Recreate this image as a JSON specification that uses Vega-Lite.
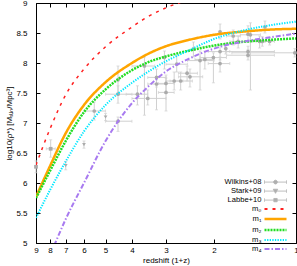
{
  "$schema": "https://vega.github.io/schema/vega-lite/v6.json",
  "width": 260,
  "height": 240,
  "autosize": {"type": "none"},
  "padding": {"left": 36, "top": 3, "right": 1, "bottom": 23},
  "background": "white",
  "config": {
    "view": {"stroke": "black", "strokeWidth": 1},
    "axis": {
      "domain": false, "grid": false, "tickColor": "black", "tickSize": -4,
      "labelFont": "Liberation Sans", "labelFontSize": 8, "labelColor": "black",
      "titleFont": "Liberation Sans", "titleFontSize": 8, "titleFontWeight": "normal", "titleColor": "black"
    }
  },
  "datasets": {
    "pts": [
      {"series": "Labbe+10", "x": 9, "y": 6.27, "xlo": 9, "xhi": 9, "ylo": 6.17, "yhi": 6.37},
      {"series": "Labbe+10", "x": 7.95, "y": 6.57, "xlo": 7.65, "xhi": 8.25, "ylo": 6.43, "yhi": 6.72},
      {"series": "Stark+09", "x": 7, "y": 6.29, "xlo": 7, "xhi": 7, "ylo": 6.22, "yhi": 6.36},
      {"series": "Stark+09", "x": 6, "y": 6.64, "xlo": 6, "xhi": 6, "ylo": 6.58, "yhi": 6.7},
      {"series": "Stark+09", "x": 5, "y": 7.1, "xlo": 5, "xhi": 5, "ylo": 7.04, "yhi": 7.16},
      {"series": "Wilkins+08", "x": 5.5, "y": 7.2, "xlo": 5.0, "xhi": 6.0, "ylo": 7.05, "yhi": 7.35},
      {"series": "Wilkins+08", "x": 4.5, "y": 7.03, "xlo": 4.0, "xhi": 5.0, "ylo": 6.86, "yhi": 7.1},
      {"series": "Wilkins+08", "x": 4.5, "y": 7.48, "xlo": 4.0, "xhi": 5.0, "ylo": 7.33, "yhi": 7.62},
      {"series": "Wilkins+08", "x": 4.5, "y": 7.72, "xlo": 4.5, "xhi": 4.5, "ylo": 7.5, "yhi": 7.95},
      {"series": "Wilkins+08", "x": 3.6, "y": 7.95, "xlo": 3.3, "xhi": 4.0, "ylo": 7.13, "yhi": 8.1},
      {"series": "Wilkins+08", "x": 3.82, "y": 7.48, "xlo": 3.5, "xhi": 4.2, "ylo": 7.3, "yhi": 7.62},
      {"series": "Wilkins+08", "x": 3.5, "y": 7.41, "xlo": 3.0, "xhi": 4.0, "ylo": 7.3, "yhi": 7.55},
      {"series": "Wilkins+08", "x": 3.25, "y": 7.76, "xlo": 3.0, "xhi": 3.5, "ylo": 7.6, "yhi": 7.9},
      {"series": "Wilkins+08", "x": 3.25, "y": 7.65, "xlo": 3.0, "xhi": 3.5, "ylo": 7.22, "yhi": 7.72},
      {"series": "Wilkins+08", "x": 3.0, "y": 7.66, "xlo": 2.8, "xhi": 3.2, "ylo": 7.5, "yhi": 7.8},
      {"series": "Wilkins+08", "x": 3.0, "y": 7.51, "xlo": 2.8, "xhi": 3.2, "ylo": 7.2, "yhi": 7.75},
      {"series": "Wilkins+08", "x": 2.8, "y": 7.7, "xlo": 2.6, "xhi": 3.0, "ylo": 7.55, "yhi": 7.85},
      {"series": "Wilkins+08", "x": 2.65, "y": 7.7, "xlo": 2.4, "xhi": 2.9, "ylo": 7.55, "yhi": 7.85},
      {"series": "Wilkins+08", "x": 2.74, "y": 7.98, "xlo": 2.5, "xhi": 3.0, "ylo": 7.85, "yhi": 8.12},
      {"series": "Wilkins+08", "x": 2.51, "y": 7.83, "xlo": 2.3, "xhi": 2.7, "ylo": 7.7, "yhi": 7.95},
      {"series": "Wilkins+08", "x": 3.04, "y": 8.09, "xlo": 3.04, "xhi": 3.04, "ylo": 7.9, "yhi": 8.2},
      {"series": "Wilkins+08", "x": 2.45, "y": 7.77, "xlo": 2.2, "xhi": 2.7, "ylo": 7.6, "yhi": 7.9},
      {"series": "Wilkins+08", "x": 2.38, "y": 8.23, "xlo": 2.38, "xhi": 2.38, "ylo": 8.1, "yhi": 8.35},
      {"series": "Wilkins+08", "x": 2.25, "y": 8.04, "xlo": 2.0, "xhi": 2.5, "ylo": 7.55, "yhi": 8.2},
      {"series": "Wilkins+08", "x": 2.16, "y": 8.06, "xlo": 2.0, "xhi": 2.35, "ylo": 7.9, "yhi": 8.2},
      {"series": "Wilkins+08", "x": 2.01, "y": 8.09, "xlo": 1.8, "xhi": 2.25, "ylo": 7.67, "yhi": 8.17},
      {"series": "Wilkins+08", "x": 1.9, "y": 8.52, "xlo": 1.9, "xhi": 1.9, "ylo": 8.4, "yhi": 8.65},
      {"series": "Wilkins+08", "x": 1.9, "y": 8.19, "xlo": 1.75, "xhi": 2.1, "ylo": 8.05, "yhi": 8.3},
      {"series": "Wilkins+08", "x": 1.9, "y": 7.99, "xlo": 1.75, "xhi": 2.1, "ylo": 7.85, "yhi": 8.1},
      {"series": "Wilkins+08", "x": 1.81, "y": 8.24, "xlo": 1.81, "xhi": 1.81, "ylo": 8.15, "yhi": 8.33},
      {"series": "Wilkins+08", "x": 1.7, "y": 8.45, "xlo": 1.6, "xhi": 1.8, "ylo": 8.3, "yhi": 8.55},
      {"series": "Wilkins+08", "x": 1.5, "y": 8.48, "xlo": 1.5, "xhi": 1.5, "ylo": 8.35, "yhi": 8.62},
      {"series": "Wilkins+08", "x": 1.47, "y": 8.47, "xlo": 1.35, "xhi": 1.6, "ylo": 7.55, "yhi": 8.67},
      {"series": "Wilkins+08", "x": 1.5, "y": 8.19, "xlo": 1.2, "xhi": 1.8, "ylo": 8.1, "yhi": 8.28},
      {"series": "Wilkins+08", "x": 1.5, "y": 8.13, "xlo": 1.2, "xhi": 1.8, "ylo": 8.05, "yhi": 8.22},
      {"series": "Wilkins+08", "x": 1.36, "y": 8.36, "xlo": 1.3, "xhi": 1.45, "ylo": 8.25, "yhi": 8.45},
      {"series": "Wilkins+08", "x": 1.33, "y": 8.36, "xlo": 1.25, "xhi": 1.4, "ylo": 8.28, "yhi": 8.44},
      {"series": "Wilkins+08", "x": 1.25, "y": 8.36, "xlo": 1.2, "xhi": 1.3, "ylo": 8.3, "yhi": 8.42},
      {"series": "Wilkins+08", "x": 1.3, "y": 8.6, "xlo": 1.3, "xhi": 1.3, "ylo": 8.5, "yhi": 8.7},
      {"series": "Wilkins+08", "x": 1.01, "y": 8.17, "xlo": 1.0, "xhi": 1.72, "ylo": 8.1, "yhi": 8.24},
      {"series": "Wilkins+08", "x": 1.63, "y": 8.36, "xlo": 1.5, "xhi": 1.75, "ylo": 8.25, "yhi": 8.45}
    ],
    "curves": [
      {"series": "m₀", "x": 9, "y": 6.3}, {"series": "m₀", "x": 8, "y": 6.9}, {"series": "m₀", "x": 7, "y": 7.47},
      {"series": "m₀", "x": 6, "y": 7.9}, {"series": "m₀", "x": 5, "y": 8.27}, {"series": "m₀", "x": 4, "y": 8.6},
      {"series": "m₀", "x": 3.5, "y": 8.77}, {"series": "m₀", "x": 3, "y": 8.92}, {"series": "m₀", "x": 2.5, "y": 9.05},
      {"series": "m₁", "x": 9, "y": 5.77}, {"series": "m₁", "x": 8, "y": 6.28}, {"series": "m₁", "x": 7, "y": 6.83},
      {"series": "m₁", "x": 6, "y": 7.3}, {"series": "m₁", "x": 5, "y": 7.68}, {"series": "m₁", "x": 4, "y": 8.0},
      {"series": "m₁", "x": 3.5, "y": 8.15}, {"series": "m₁", "x": 3, "y": 8.28}, {"series": "m₁", "x": 2.5, "y": 8.38},
      {"series": "m₁", "x": 2, "y": 8.47}, {"series": "m₁", "x": 1.5, "y": 8.53}, {"series": "m₁", "x": 1.2, "y": 8.56},
      {"series": "m₁", "x": 1, "y": 8.57},
      {"series": "m₂", "x": 9, "y": 5.75}, {"series": "m₂", "x": 8, "y": 6.2}, {"series": "m₂", "x": 7, "y": 6.7},
      {"series": "m₂", "x": 6, "y": 7.18}, {"series": "m₂", "x": 5, "y": 7.56}, {"series": "m₂", "x": 4, "y": 7.88},
      {"series": "m₂", "x": 3.5, "y": 8.01}, {"series": "m₂", "x": 3, "y": 8.11}, {"series": "m₂", "x": 2.5, "y": 8.2},
      {"series": "m₂", "x": 2, "y": 8.29}, {"series": "m₂", "x": 1.5, "y": 8.36}, {"series": "m₂", "x": 1.2, "y": 8.39},
      {"series": "m₂", "x": 1, "y": 8.41},
      {"series": "m₃", "x": 9, "y": 5.42}, {"series": "m₃", "x": 8, "y": 5.88}, {"series": "m₃", "x": 7, "y": 6.36},
      {"series": "m₃", "x": 6, "y": 6.86}, {"series": "m₃", "x": 5, "y": 7.3}, {"series": "m₃", "x": 4, "y": 7.67},
      {"series": "m₃", "x": 3.5, "y": 7.85}, {"series": "m₃", "x": 3, "y": 8.03}, {"series": "m₃", "x": 2.5, "y": 8.2},
      {"series": "m₃", "x": 2, "y": 8.4}, {"series": "m₃", "x": 1.5, "y": 8.56}, {"series": "m₃", "x": 1.2, "y": 8.64},
      {"series": "m₃", "x": 1, "y": 8.69},
      {"series": "m₄", "x": 8, "y": 4.8}, {"series": "m₄", "x": 7.65, "y": 5.0}, {"series": "m₄", "x": 7, "y": 5.4},
      {"series": "m₄", "x": 6, "y": 6.0}, {"series": "m₄", "x": 5, "y": 6.7}, {"series": "m₄", "x": 4, "y": 7.33},
      {"series": "m₄", "x": 3.5, "y": 7.6}, {"series": "m₄", "x": 3, "y": 7.86}, {"series": "m₄", "x": 2.5, "y": 8.06},
      {"series": "m₄", "x": 2, "y": 8.24}, {"series": "m₄", "x": 1.5, "y": 8.37}, {"series": "m₄", "x": 1.2, "y": 8.44},
      {"series": "m₄", "x": 1, "y": 8.49}
    ]
  },
  "resolve": {"axis": {"x": "independent", "y": "independent"}},
  "layer": [
    {
      "data": {"name": "pts"},
      "mark": {"type": "rule", "color": "#d0d0d0", "strokeWidth": 1},
      "encoding": {
        "x": {"field": "x", "type": "quantitative", "scale": {"type": "log", "domain": [1, 9], "reverse": true, "nice": false}, "axis": null},
        "y": {"field": "ylo", "type": "quantitative", "scale": {"domain": [5, 9], "zero": false, "nice": false}, "axis": null},
        "y2": {"field": "yhi"}
      }
    },
    {
      "data": {"name": "pts"},
      "transform": [{"filter": "datum.xlo < datum.xhi"}],
      "mark": {"type": "rule", "color": "#d0d0d0", "strokeWidth": 1},
      "encoding": {
        "x": {"field": "xlo", "type": "quantitative", "axis": null},
        "x2": {"field": "xhi"},
        "y": {"field": "y", "type": "quantitative", "axis": null}
      }
    },
    {
      "data": {"name": "pts"},
      "transform": [{"fold": ["ylo", "yhi"], "as": ["k", "yc"]}],
      "mark": {"type": "tick", "orient": "horizontal", "color": "#d0d0d0", "size": 3, "thickness": 1},
      "encoding": {
        "x": {"field": "x", "type": "quantitative", "axis": null},
        "y": {"field": "yc", "type": "quantitative", "axis": null}
      }
    },
    {
      "data": {"name": "pts"},
      "transform": [{"filter": "datum.xlo < datum.xhi"}, {"fold": ["xlo", "xhi"], "as": ["k", "xc"]}],
      "mark": {"type": "tick", "orient": "vertical", "color": "#d0d0d0", "size": 3, "thickness": 1},
      "encoding": {
        "x": {"field": "xc", "type": "quantitative", "axis": null},
        "y": {"field": "y", "type": "quantitative", "axis": null}
      }
    },
    {
      "data": {"name": "pts"},
      "mark": {"type": "point", "filled": true, "color": "#ababab", "opacity": 1, "size": 14},
      "encoding": {
        "x": {"field": "x", "type": "quantitative",
          "axis": {"orient": "bottom", "values": [1, 2, 3, 4, 5, 6, 7, 8, 9], "format": "d", "title": "redshift (1+z)", "labelPadding": 7, "titlePadding": 2, "labelFlush": false, "labelOverlap": false}},
        "y": {"field": "y", "type": "quantitative",
          "axis": {"orient": "left", "values": [5, 5.5, 6, 6.5, 7, 7.5, 8, 8.5, 9], "format": "~g", "title": "log10(ρ*) [Mₛᵤₙ/Mpc³]", "labelPadding": 13, "titlePadding": 2, "labelFlush": false, "labelOverlap": false}},
        "shape": {"field": "series", "type": "nominal", "scale": {"domain": ["Wilkins+08", "Stark+09", "Labbe+10"], "range": ["circle", "triangle-down", "square"]}, "legend": null}
      }
    },
    {
      "data": {"name": "curves"},
      "mark": {"type": "line", "interpolate": "monotone", "clip": true},
      "encoding": {
        "x": {"field": "x", "type": "quantitative", "axis": null},
        "y": {"field": "y", "type": "quantitative", "axis": null},
        "color": {"field": "series", "type": "nominal",
          "scale": {"domain": ["Wilkins+08", "Stark+09", "Labbe+10", "m₀", "m₁", "m₂", "m₃", "m₄"],
                    "range": ["#b4b4b4", "#b4b4b4", "#b4b4b4", "#ff2020", "#ffa500", "#22dd22", "#00e8ff", "#a87af0"]},
          "legend": {
            "orient": "none", "legendX": 227.5, "legendY": 175.3, "title": null, "padding": 0,
            "labelFont": "Liberation Sans", "labelFontSize": 7.6, "labelColor": "black",
            "rowPadding": 0, "symbolSize": 484, "symbolType": "stroke",
            "encode": {
              "labels": {"update": {"x": {"value": -2}, "y": {"value": 3.8}, "align": {"value": "right"}, "baseline": {"value": "middle"}}},
              "symbols": {"update": {
                "x": {"value": 12},
                "y": {"value": 3.8},
                "size": {"value": 484},
                "shape": {"signal": "datum.value === 'Wilkins+08' ? 'M-1,0H1M-1,-0.15V0.15M1,-0.15V0.15M-0.17,0A0.17,0.17,0,1,1,0.17,0A0.17,0.17,0,1,1,-0.17,0Z' : datum.value === 'Stark+09' ? 'M-1,0H1M-1,-0.15V0.15M1,-0.15V0.15M-0.2,-0.17L0.2,-0.17L0,0.2Z' : datum.value === 'Labbe+10' ? 'M-1,0H1M-1,-0.15V0.15M1,-0.15V0.15M-0.15,-0.15H0.15V0.15H-0.15Z' : 'stroke'"},
                "stroke": {"scale": "color", "field": "value"},
                "fill": {"signal": "datum.index < 3 ? '#ababab' : 'transparent'"},
                "strokeWidth": {"signal": "datum.index < 3 ? 1 : (datum.value === 'm₁' || datum.value === 'm₂') ? 2.5 : 2"},
                "strokeDash": {"signal": "datum.value === 'm₀' ? [3, 5] : datum.value === 'm₂' ? [2, 1] : datum.value === 'm₃' ? [1.3, 1.3] : datum.value === 'm₄' ? [5, 2, 1.5, 2] : [1, 0]"},
                "opacity": {"value": 1}
              }}
            }
          }
        },
        "strokeDash": {"field": "series", "type": "nominal",
          "scale": {"domain": ["m₀", "m₁", "m₂", "m₃", "m₄"], "range": [[3, 5], [1, 0], [2, 1], [1.3, 1.3], [5, 2, 1.5, 2]]}, "legend": null},
        "strokeWidth": {"field": "series", "type": "nominal",
          "scale": {"type": "ordinal", "domain": ["m₀", "m₁", "m₂", "m₃", "m₄"], "range": [1.5, 2.5, 2.5, 2, 2]}, "legend": null}
      }
    },
    {
      "data": {"name": "curves"},
      "mark": {"type": "point", "opacity": 0},
      "encoding": {
        "x": {"field": "x", "type": "quantitative",
          "axis": {"orient": "top", "values": [1, 2, 3, 4, 5, 6, 7, 8, 9], "labels": false, "title": null}},
        "y": {"field": "y", "type": "quantitative",
          "axis": {"orient": "right", "values": [5, 5.5, 6, 6.5, 7, 7.5, 8, 8.5, 9], "labels": false, "title": null}}
      }
    }
  ]
}
